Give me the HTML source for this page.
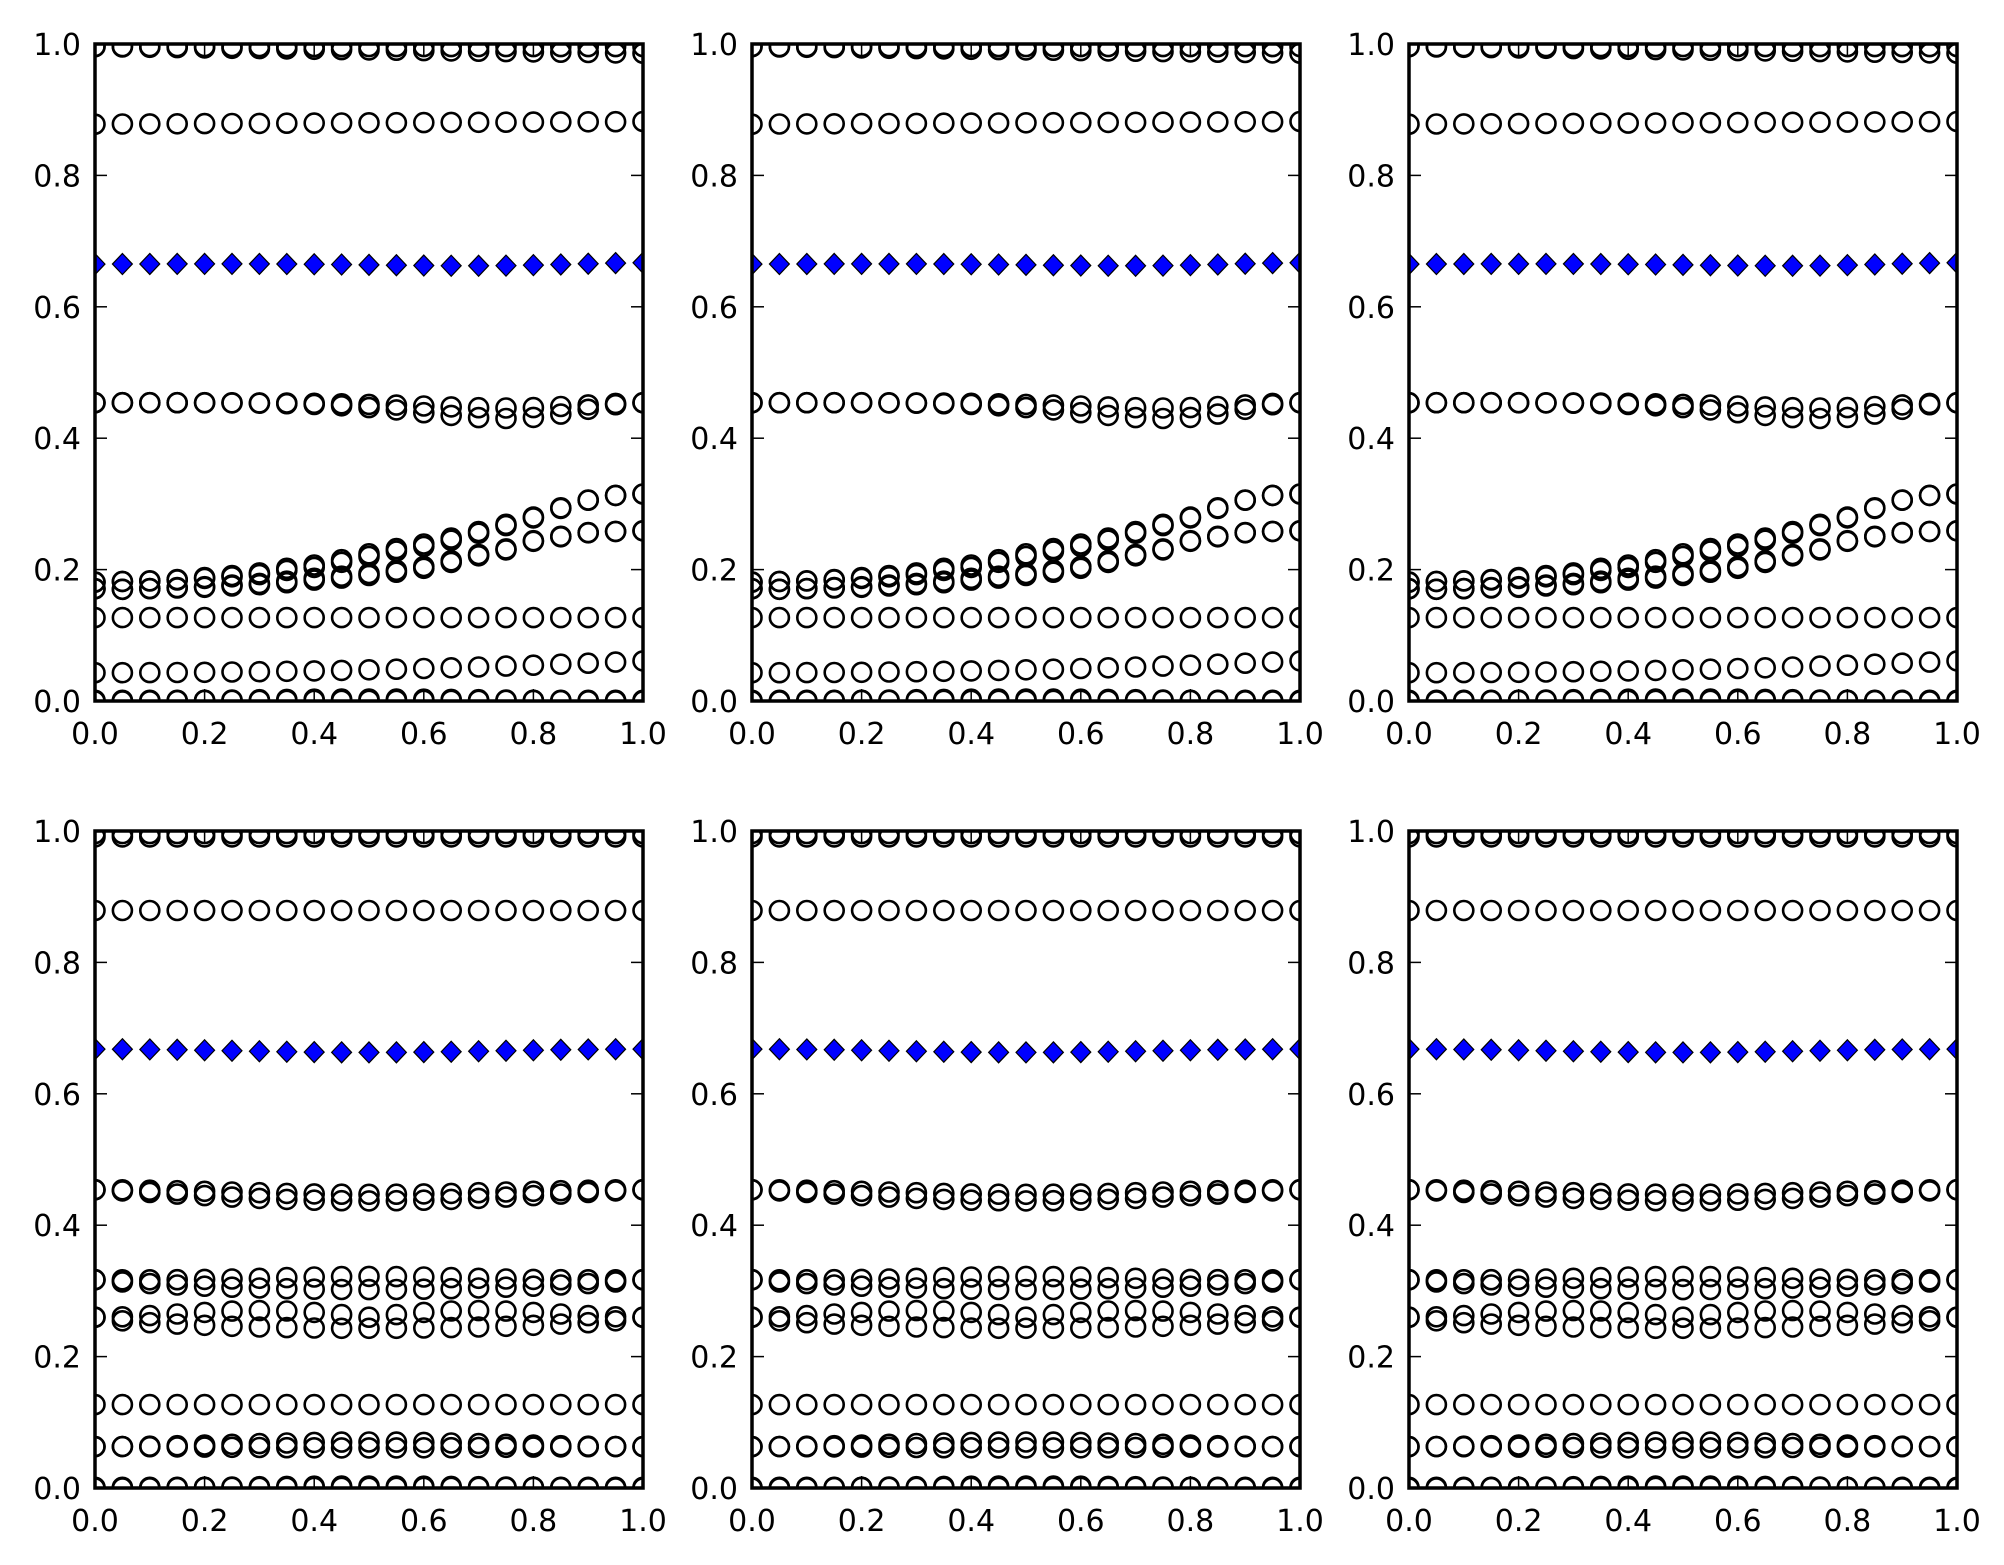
<!DOCTYPE html>
<html><head><meta charset="utf-8"><style>
html,body{margin:0;padding:0;background:#fff;}
svg{display:block;}
text{font-family:"DejaVu Sans","Liberation Sans",sans-serif;font-size:30px;fill:#000;}
</style></head><body>
<svg id="s" width="2004" height="1565" xmlns="http://www.w3.org/2000/svg"></svg>
<script>
const S=document.getElementById('s');
let out='';
const W=548,H=657;
const cols=[95,752,1409], rows=[44,831];
const xs=[];for(let i=0;i<=20;i++)xs.push(i/20);
const bump=(x,k)=>Math.pow(Math.sin(Math.PI*Math.pow(x,k||1)),2);
function topSeries(){
 const A=[0.181,0.182,0.183,0.185,0.188,0.191,0.195,0.202,0.207,0.215,0.224,0.232,0.239,0.248,0.258,0.269,0.280,0.294,0.306,0.313,0.315];
 const B=[0.171,0.170,0.171,0.172,0.173,0.175,0.177,0.180,0.184,0.187,0.191,0.196,0.202,0.211,0.221,0.230,0.243,0.250,0.256,0.258,0.259];
 const s=[];
 s.push(xs.map(x=>0.996));
 s.push(xs.map(x=>0.996-0.01*x));
 s.push(xs.map(x=>0.878+0.004*x));
 s.push(xs.map(x=>0.454-0.008*bump(x,2.41)));
 s.push(xs.map(x=>0.454-0.024*bump(x,2.41)));
 s.push(A); s.push(A.map((v,i)=>v-0.004*bump(xs[i])));
 s.push(B); s.push(B.map((v,i)=>v+0.003*bump(xs[i])));
 s.push(xs.map(x=>0.127));
 s.push(xs.map(x=>0.043+0.018*x*x));
 s.push(xs.map(x=>0.001)); s.push(xs.map(x=>0.003*bump(x)));
 const d=xs.map(x=>0.665-0.004*bump(x,1.94)+0.002*x);
 return [s,d];
}
function botSeries(){
 const s=[];
 s.push(xs.map(x=>0.996)); s.push(xs.map(x=>0.991));
 s.push(xs.map(x=>0.879));
 s.push(xs.map(x=>0.454-0.007*bump(x)));
 s.push(xs.map(x=>0.454-0.017*Math.pow(Math.sin(Math.PI*x),1.2)));
 s.push(xs.map(x=>0.317+0.009*Math.pow(Math.sin(Math.PI*x),3)-0.004*bump(x)));
 s.push(xs.map(x=>0.317-0.015*Math.pow(Math.sin(Math.PI*x),0.8)));
 s.push(xs.map(x=>0.260+0.013*Math.abs(Math.sin(2*Math.PI*x))*Math.sin(Math.PI*x)));
 s.push(xs.map(x=>0.260-0.017*Math.pow(Math.sin(Math.PI*x),0.6)));
 s.push(xs.map(x=>0.127));
 s.push(xs.map(x=>0.063+0.007*bump(x)));
 s.push(xs.map(x=>0.063-0.002*bump(x)));
 s.push(xs.map(x=>0.001)); s.push(xs.map(x=>0.003*bump(x)));
 const d=xs.map(x=>0.668-0.005*bump(x));
 return [s,d];
}
let id=0;
rows.forEach((ty,ri)=>{
 const [ser,dia]=ri==0?topSeries():botSeries();
 cols.forEach(lx=>{
  id++;
  const X=v=>lx+v*W, Y=v=>ty+H-v*H;
  out+=`<clipPath id="c${id}"><rect x="${lx}" y="${ty}" width="${W}" height="${H}"/></clipPath><g clip-path="url(#c${id})">`;
  ser.forEach(a=>a.forEach((v,i)=>{out+=`<circle cx="${X(xs[i]).toFixed(1)}" cy="${Y(v).toFixed(1)}" r="9.5" fill="none" stroke="#000" stroke-width="2.6"/>`;}));
  dia.forEach((v,i)=>{const cx=X(xs[i]),cy=Y(v),r=10.5;out+=`<polygon points="${cx},${cy-r} ${cx+r*0.95},${cy} ${cx},${cy+r} ${cx-r*0.95},${cy}" fill="#0000ff" stroke="#000" stroke-width="1.2"/>`;});
  out+='</g>';
  for(let k=0;k<=5;k++){
   const v=k/5, px=X(v), py=Y(v);
   out+=`<line x1="${px}" y1="${ty+H}" x2="${px}" y2="${ty+H-12}" stroke="#000" stroke-width="1.5"/>`;
   out+=`<line x1="${px}" y1="${ty}" x2="${px}" y2="${ty+12}" stroke="#000" stroke-width="1.5"/>`;
   out+=`<line x1="${lx}" y1="${py}" x2="${lx+12}" y2="${py}" stroke="#000" stroke-width="1.5"/>`;
   out+=`<line x1="${lx+W}" y1="${py}" x2="${lx+W-12}" y2="${py}" stroke="#000" stroke-width="1.5"/>`;
   out+=`<text x="${px}" y="${ty+H+43}" text-anchor="middle">${v.toFixed(1)}</text>`;
   out+=`<text x="${lx-14}" y="${py+11}" text-anchor="end">${v.toFixed(1)}</text>`;
  }
  out+=`<rect x="${lx}" y="${ty}" width="${W}" height="${H}" fill="none" stroke="#000" stroke-width="3.5"/>`;
 });
});
S.innerHTML=out;
</script>
</body></html>
